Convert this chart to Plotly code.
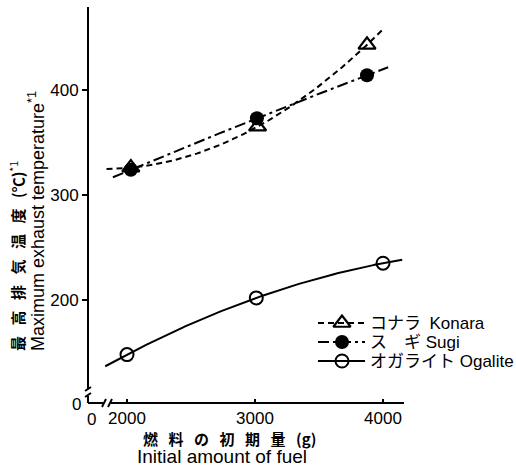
import numpy as np
import plotly.graph_objects as go

# Measured maximum exhaust temperature vs. initial amount of fuel
konara_x = [2030, 3020, 3875]
konara_y = [326, 365, 443]
sugi_x = [2030, 3015, 3875]
sugi_y = [324, 373, 414]
ogalite_x = [2000, 3010, 4000]
ogalite_y = [148, 202, 235]

# x-extent of each fitted curve
konara_span = [1840, 3990]
sugi_span = [1890, 4040]
ogalite_span = [1830, 4150]

x_ticks = [2000, 3000, 4000]
y_ticks = [200, 300, 400]

names = ["コナラ\u2002Konara", "ス\u3000ギ Sugi", "オガライト Ogalite"]

W, H = 516, 466
L, R, T, B = 88, 112, 7, 63
X_RANGE = [1695.3, 4164.0]
Y_RANGE = [101.9, 479.0]

FONT = "Liberation Sans, Arial, Noto Sans CJK JP, sans-serif"
JFONT = "Noto Sans CJK JP, sans-serif"
GAP = "\u2002\u2009"  # spacing between title kanji


def px_x(p):
    return (p - L) / (W - L - R)


def px_y(p):
    return (H - B - p) / (H - T - B)


def fit_curve(xs, ys, span):
    coef = np.polyfit(xs, ys, 2)
    xx = np.linspace(span[0], span[1], 120)
    return xx, np.polyval(coef, xx)


series = [
    (konara_x, konara_y, konara_span, "6px,4px",
     dict(symbol="triangle-up-open", size=15, color="black", line=dict(width=2.2))),
    (sugi_x, sugi_y, sugi_span, "11px,4px,3px,4px",
     dict(symbol="circle", size=14, color="black")),
    (ogalite_x, ogalite_y, ogalite_span, "solid",
     dict(symbol="circle-open", size=13, color="black", line=dict(width=2))),
]

fig = go.Figure()
for xs, ys, span, dash, mk in series:
    cx, cy = fit_curve(xs, ys, span)
    fig.add_trace(go.Scatter(x=cx, y=cy, mode="lines", showlegend=False,
                             line=dict(color="black", width=2, dash=dash),
                             hoverinfo="skip"))
    fig.add_trace(go.Scatter(x=xs, y=ys, mode="markers", showlegend=False, marker=mk))

# Key drawn on a pixel-unit overlay axis pair
key_rows = [323, 342, 361]
key_x0, key_xm, key_x1, key_text_x = 318, 342, 365, 368
for (xs, ys, span, dash, mk), row, name in zip(series, key_rows, names):
    fig.add_trace(go.Scatter(x=[key_x0, key_x1], y=[row, row], mode="lines",
                             xaxis="x2", yaxis="y2", showlegend=False, hoverinfo="skip",
                             line=dict(color="black", width=2, dash=dash)))
    fig.add_trace(go.Scatter(x=[key_xm], y=[row], mode="markers",
                             xaxis="x2", yaxis="y2", showlegend=False, hoverinfo="skip",
                             marker=mk))

shapes = []
line_style = dict(color="black", width=2)
# y axis (with break near the bottom)
shapes.append(dict(type="line", xref="paper", yref="paper",
                   x0=px_x(88), x1=px_x(88), y0=px_y(7), y1=px_y(389), line=line_style))
shapes.append(dict(type="line", xref="paper", yref="paper",
                   x0=px_x(85), x1=px_x(91), y0=px_y(391), y1=px_y(387), line=line_style))
shapes.append(dict(type="line", xref="paper", yref="paper",
                   x0=px_x(85), x1=px_x(91), y0=px_y(397), y1=px_y(393), line=line_style))
shapes.append(dict(type="line", xref="paper", yref="paper",
                   x0=px_x(88), x1=px_x(88), y0=px_y(396), y1=px_y(403), line=line_style))
# x axis (with break near the left)
shapes.append(dict(type="line", xref="paper", yref="paper",
                   x0=px_x(88), x1=px_x(103), y0=px_y(403), y1=px_y(403), line=line_style))
shapes.append(dict(type="line", xref="paper", yref="paper",
                   x0=px_x(102), x1=px_x(106), y0=px_y(407), y1=px_y(399), line=line_style))
shapes.append(dict(type="line", xref="paper", yref="paper",
                   x0=px_x(108), x1=px_x(112), y0=px_y(407), y1=px_y(399), line=line_style))
shapes.append(dict(type="line", xref="paper", yref="paper",
                   x0=px_x(111), x1=px_x(404), y0=px_y(403), y1=px_y(403), line=line_style))


def label(text, x, y, size=17, family=FONT, **kw):
    d = dict(text=text, xref="paper", yref="paper", x=px_x(x), y=px_y(y),
             showarrow=False, xanchor="center", yanchor="middle",
             font=dict(family=family, size=size, color="black"))
    d.update(kw)
    return d


x_title_jp = GAP.join(["燃", "料", "の", "初", "期", "量", "(g)"])
y_title_jp = GAP.join(["最", "高", "排", "気", "温", "度", "(℃)"])

annotations = [
    label("0", 76, 404),
    label("0", 91, 419),
    label("<b>" + x_title_jp + "</b>", 229, 438, size=15, family=JFONT),
    label("Initial amount of fuel", 222, 457, size=19),
    label("<b>" + y_title_jp + "</b><sup>*1</sup>", 17, 353,
          size=15, family=JFONT, yanchor="bottom", textangle=-90),
    label("Maximum exhaust temperature<sup>*1</sup>", 36, 353,
          size=18, yanchor="bottom", textangle=-90),
]
for row, name in zip(key_rows, names):
    annotations.append(label(name, key_text_x, row, xanchor="left"))

fig.update_layout(
    width=W, height=H,
    margin=dict(l=L, r=R, t=T, b=B),
    paper_bgcolor="white", plot_bgcolor="white",
    font=dict(family=FONT, size=17, color="black"),
    xaxis=dict(range=X_RANGE, tickvals=x_ticks, ticks="inside", ticklen=4,
               tickwidth=1.5, tickcolor="black", showgrid=False, zeroline=False,
               showline=False, tickfont=dict(size=17), ticklabelstandoff=3),
    yaxis=dict(range=Y_RANGE, tickvals=y_ticks, ticks="outside", ticklen=5,
               tickwidth=1.5, tickcolor="black", showgrid=False, zeroline=False,
               showline=False, tickfont=dict(size=17)),
    xaxis2=dict(range=[L, W - R], overlaying="x", anchor="y2", visible=False),
    yaxis2=dict(range=[H - B, T], overlaying="y", anchor="x2", visible=False),
    shapes=shapes,
    annotations=annotations,
    showlegend=False,
)

fig.write_html("out.html")
